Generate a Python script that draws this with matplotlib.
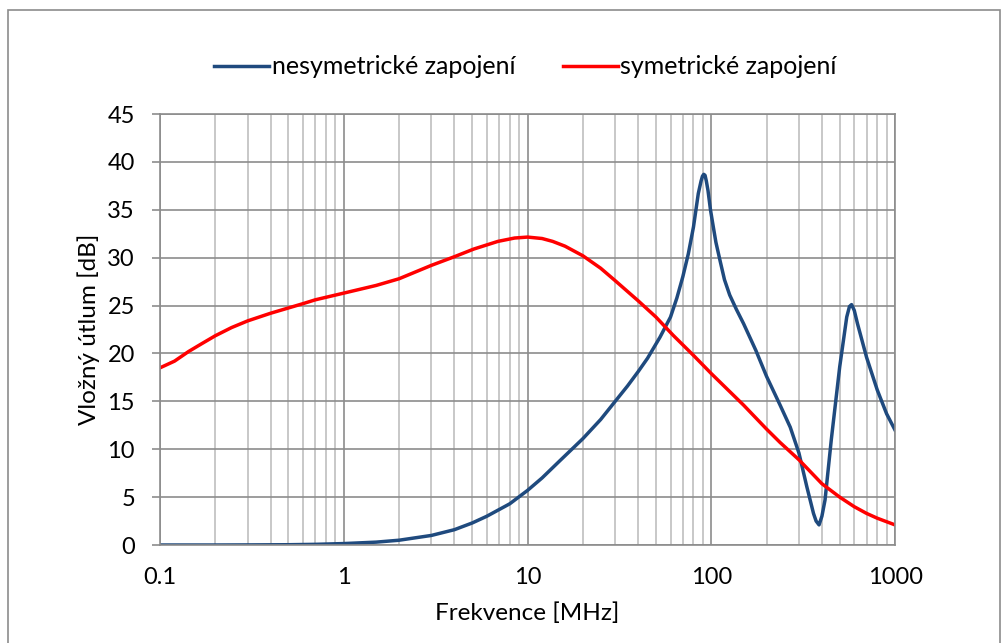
import matplotlib.pyplot as plt
from matplotlib.patches import Rectangle
from matplotlib.ticker import FixedLocator, LogLocator, NullFormatter

plt.rcParams['font.family'] = ['Lato', 'DejaVu Sans']

# nesymetricke zapojeni (blue)
f_nesym = [0.1, 0.2, 0.3, 0.5, 0.7, 1, 1.5, 2, 3, 4, 5, 6, 8, 10, 12, 15,
           20, 25, 30, 35, 40, 45, 52.6, 60, 65, 70, 75, 80, 85, 88, 89.5,
           91, 92.5, 94, 96, 99, 102.6, 106, 111.6, 118, 126, 137, 150, 175,
           200, 237, 269, 300, 331, 360, 372, 386, 400, 416, 450, 500, 546,
           565, 580, 600, 625, 700, 800, 900, 1000]
u_nesym = [0.0, 0.0, 0.01, 0.03, 0.07, 0.15, 0.3, 0.5, 1.0, 1.6, 2.3, 3.0,
           4.3, 5.7, 7.0, 8.8, 11.1, 13.1, 15.0, 16.6, 18.1, 19.5, 21.7,
           23.8, 25.8, 28.0, 30.4, 33.2, 36.7, 38.0, 38.5, 38.7, 38.6, 38.0,
           37.0, 35.0, 33.2, 31.6, 29.7, 27.7, 26.1, 24.6, 23.1, 20.3, 17.6,
           14.6, 12.3, 9.6, 6.1, 3.3, 2.5, 2.1, 3.0, 4.7, 11.0, 18.6, 23.8,
           24.9, 25.1, 24.5, 23.1, 19.6, 16.2, 13.7, 12.0]

# symetricke zapojeni (red)
f_sym = [0.1, 0.12, 0.143, 0.168, 0.2, 0.245, 0.3, 0.4, 0.5, 0.6, 0.7, 1,
         1.5, 2, 3, 4, 5.1, 6.9, 8.5, 10, 12, 13.7, 16, 20, 25, 30, 40, 50,
         62, 80, 100, 150, 200, 237, 300, 400, 500, 600, 700, 800, 1000]
u_sym = [18.5, 19.2, 20.2, 21.0, 21.85, 22.7, 23.4, 24.2, 24.75, 25.2, 25.6,
         26.3, 27.1, 27.8, 29.2, 30.1, 30.9, 31.7, 32.05, 32.15, 32.0, 31.7,
         31.2, 30.2, 28.9, 27.6, 25.5, 23.8, 21.9, 19.8, 17.9, 14.6, 12.1,
         10.7, 8.9, 6.4, 5.0, 4.0, 3.3, 2.8, 2.1]

x_ticks = [0.1, 1, 10, 100, 1000]
x_labels = ['0.1', '1', '10', '100', '1000']
y_ticks = list(range(0, 46, 5))

fig = plt.figure(figsize=(10.07, 6.43), dpi=100)
ax = fig.add_axes([0.1589, 0.1524, 0.7299, 0.6703])

ax.plot(f_nesym, u_nesym, color='#1F4A7E', lw=2.5, label='nesymetrické zapojení')
ax.plot(f_sym, u_sym, color='#FF0000', lw=2.5, label='symetrické zapojení')

ax.set_xscale('log')
ax.set_xlim(0.1, 1000)
ax.set_ylim(0, 45)
ax.xaxis.set_major_locator(FixedLocator(x_ticks))
ax.set_xticklabels(x_labels)
ax.xaxis.set_minor_locator(LogLocator(base=10, subs=range(2, 10)))
ax.xaxis.set_minor_formatter(NullFormatter())
ax.set_yticks(y_ticks)

ax.grid(which='major', axis='x', color='#8C8C8C', lw=1.2)
ax.grid(which='minor', axis='x', color='#BFBFBF', lw=1.2)
ax.grid(which='major', axis='y', color='#8C8C8C', lw=1.2)
ax.set_axisbelow(True)
for s in ax.spines.values():
    s.set_color('#8C8C8C')
    s.set_linewidth(1.2)

ax.tick_params(axis='x', which='both', length=0, pad=16, labelsize=17)
ax.tick_params(axis='y', length=6, width=1.2, color='#8C8C8C', pad=12, labelsize=17)

ax.set_xlabel('Frekvence [MHz]', fontsize=17.5, labelpad=10)
ax.set_ylabel('Vložný útlum [dB]', fontsize=17.5, labelpad=5)

fig.legend(loc='center', bbox_to_anchor=(0.522, 0.896), ncol=2, frameon=False,
           fontsize=18, handlelength=2.2, handletextpad=0.1, columnspacing=1.9)

fig.patches.append(Rectangle((8 / 1007, -0.05), 992 / 1007, 1.05 - 10 / 643,
                             transform=fig.transFigure, fill=False,
                             edgecolor='#8C8C8C', lw=1.2))

fig.savefig('out.png', dpi=100)
